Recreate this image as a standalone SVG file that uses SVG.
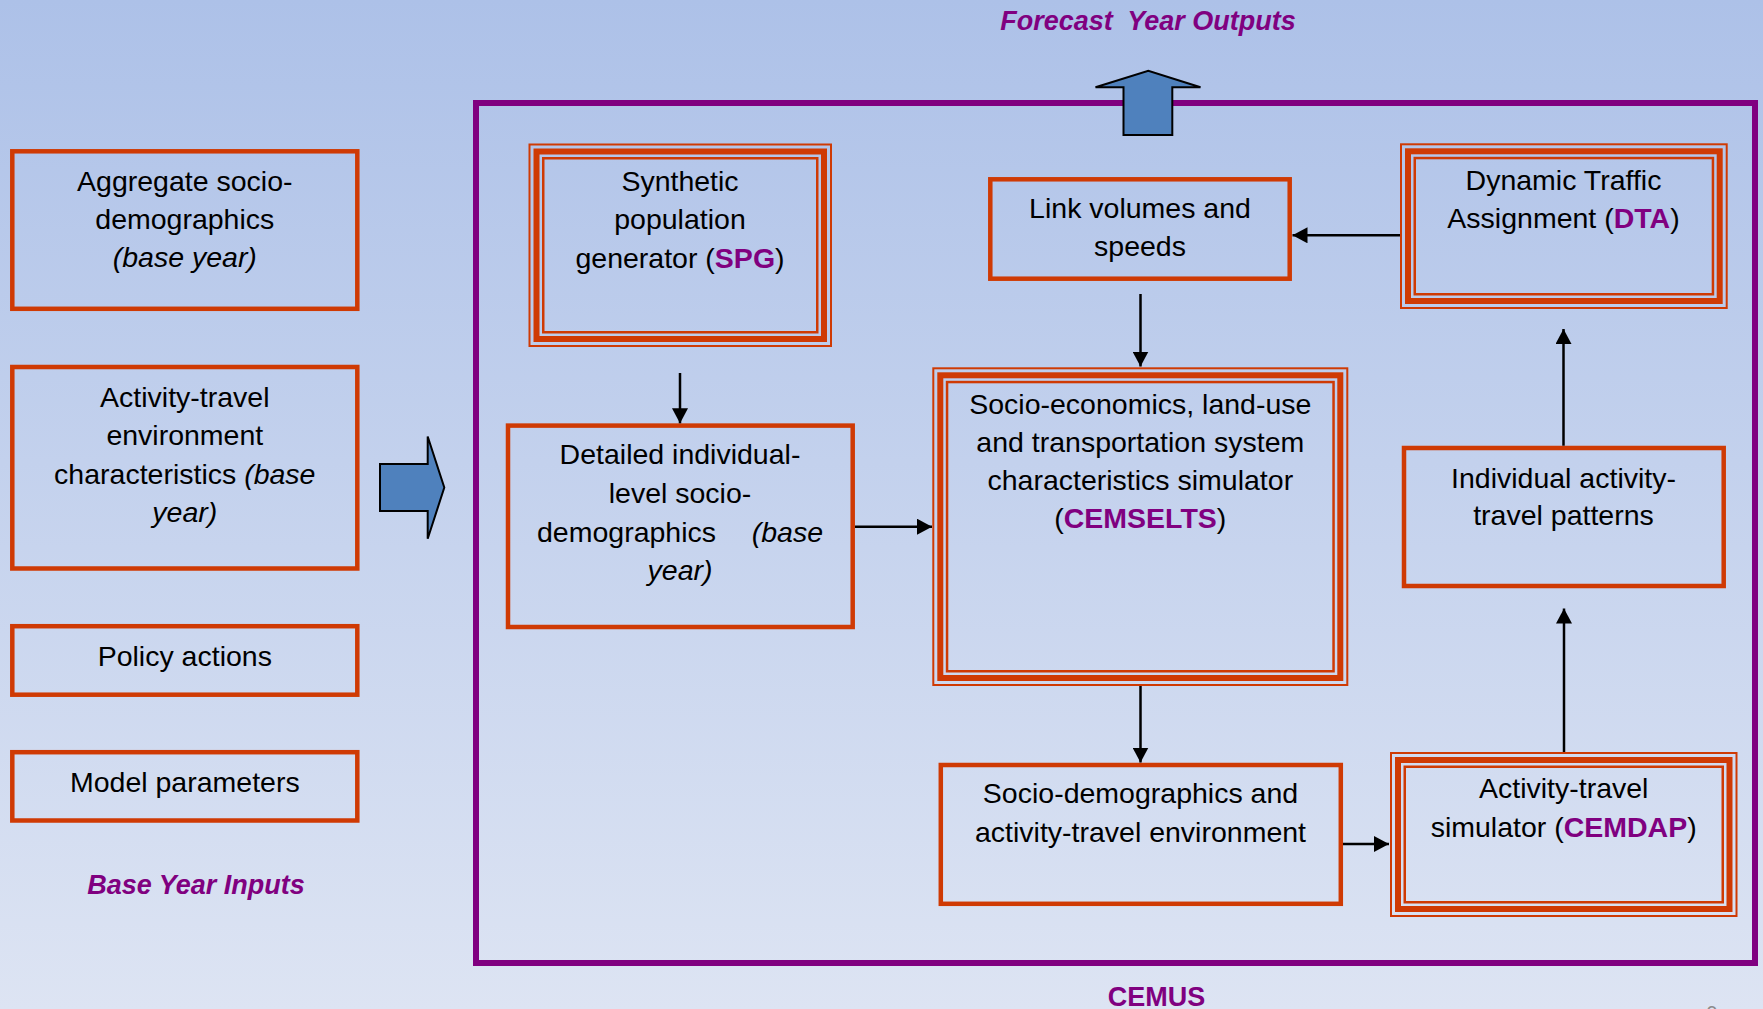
<svg xmlns="http://www.w3.org/2000/svg" width="1763" height="1009" viewBox="0 0 1763 1009">
  <defs>
    <linearGradient id="bg" x1="0" y1="0" x2="0" y2="1">
      <stop offset="0" stop-color="#ADC1E8"/>
      <stop offset="1" stop-color="#DDE4F3"/>
    </linearGradient>
    <marker id="ah" viewBox="0 0 15 16" refX="15" refY="8" markerWidth="15" markerHeight="16" markerUnits="userSpaceOnUse" orient="auto">
      <path d="M0,0 L15,8 L0,16 z" fill="#000"/>
    </marker>
    <style>
      .box { fill: none; stroke: #CF3A04; stroke-width: 4.5; }
      .tb1 { fill: none; stroke: #CF3A04; stroke-width: 2; }
      .tb2 { fill: none; stroke: #CF3A04; stroke-width: 6; }
      .tb3 { fill: none; stroke: #CF3A04; stroke-width: 2.5; }
      .t { font-family: "Liberation Sans", Arial, sans-serif; font-size: 28.5px; fill: #000; text-anchor: middle; }
      .em { fill: #800080; font-weight: bold; }
      .it { font-style: italic; }
      .ttl { font-family: "Liberation Sans", Arial, sans-serif; font-size: 27px; font-weight: bold; font-style: italic; fill: #800080; text-anchor: middle; }
      .conn { fill: none; stroke: #000; stroke-width: 2.5; marker-end: url(#ah); }
      .blk { fill: #4F81BD; stroke: #000; stroke-width: 2; stroke-linejoin: miter; }
    </style>
  </defs>

  <rect x="0" y="0" width="1763" height="1009" fill="url(#bg)"/>

  <!-- CEMUS container -->
  <g id="cemus">
    <rect x="476" y="103" width="1279" height="860" fill="none" stroke="#800080" stroke-width="6"/>
    <text class="ttl" x="1156.5" y="1006" style="font-style:normal">CEMUS</text>
  </g>

  <text class="ttl" x="1148" y="29.5" xml:space="preserve">Forecast  Year Outputs</text>
  <text class="ttl" x="196" y="894">Base Year Inputs</text>
  <text x="1712" y="1020" font-family="Liberation Sans, Arial, sans-serif" font-size="20" fill="#8C8C8C" text-anchor="middle">9</text>

  <!-- Left input boxes -->
  <g id="aggregate">
    <rect class="box" x="12.3" y="151.3" width="345" height="157.5"/>
    <text class="t" x="184.8" y="190.7">Aggregate socio-</text>
    <text class="t" x="184.8" y="228.5">demographics</text>
    <text class="t it" x="184.8" y="266.7">(base year)</text>
  </g>
  <g id="activity-env">
    <rect class="box" x="12.3" y="367" width="345" height="201.5"/>
    <text class="t" x="184.8" y="406.5">Activity-travel</text>
    <text class="t" x="184.8" y="445">environment</text>
    <text class="t" x="184.8" y="483.5">characteristics <tspan class="it">(base</tspan></text>
    <text class="t it" x="184.8" y="522">year)</text>
  </g>
  <g id="policy">
    <rect class="box" x="12.3" y="626.2" width="345" height="68.5"/>
    <text class="t" x="184.8" y="665.7">Policy actions</text>
  </g>
  <g id="model-params">
    <rect class="box" x="12.3" y="752.2" width="345" height="68.3"/>
    <text class="t" x="184.8" y="791.7">Model parameters</text>
  </g>

  <!-- Block arrows -->
  <g id="input-arrow">
    <polygon class="blk" points="380,464 427.7,464 427.7,436.5 444.3,487.5 427.7,538.8 427.7,511 380,511"/>
  </g>
  <g id="output-arrow">
    <polygon class="blk" points="1123.5,135 1123.5,87.3 1095.5,87.3 1148.3,70.7 1200.5,87.3 1172.3,87.3 1172.3,135"/>
  </g>

  <!-- CEMUS components -->
  <g id="spg">
    <rect class="tb1" x="529.5" y="144.5" width="301.5" height="201.5"/>
    <rect class="tb2" x="536.5" y="151.5" width="287.5" height="187.5"/>
    <rect class="tb3" x="543.25" y="158.25" width="274" height="174"/>
    <text class="t" x="680" y="190.5">Synthetic</text>
    <text class="t" x="680" y="228.7">population</text>
    <text class="t" x="680" y="268">generator (<tspan class="em">SPG</tspan>)</text>
  </g>
  <g id="detailed">
    <rect class="box" x="508" y="425.6" width="344.7" height="201.4"/>
    <text class="t" x="680" y="464">Detailed individual-</text>
    <text class="t" x="680" y="502.7">level socio-</text>
    <text class="t" x="537" y="541.7" style="text-anchor:start">demographics</text>
    <text class="t it" x="823" y="541.7" style="text-anchor:end">(base</text>
    <text class="t it" x="680" y="580">year)</text>
  </g>
  <g id="link-volumes">
    <rect class="box" x="990.3" y="179.3" width="299.4" height="99.4"/>
    <text class="t" x="1140" y="218.3">Link volumes and</text>
    <text class="t" x="1140" y="255.5">speeds</text>
  </g>
  <g id="dta">
    <rect class="tb1" x="1401" y="144.3" width="325.7" height="163.7"/>
    <rect class="tb2" x="1408" y="151.3" width="311.7" height="149.7"/>
    <rect class="tb3" x="1414.75" y="158.05" width="298.2" height="136.2"/>
    <text class="t" x="1563.5" y="190">Dynamic Traffic</text>
    <text class="t" x="1563.5" y="228.3">Assignment (<tspan class="em">DTA</tspan>)</text>
  </g>
  <g id="cemselts">
    <rect class="tb1" x="933.3" y="368.3" width="414" height="316.7"/>
    <rect class="tb2" x="940.3" y="375.3" width="400" height="302.7"/>
    <rect class="tb3" x="947.05" y="382.05" width="386.5" height="289.2"/>
    <text class="t" x="1140.3" y="414">Socio-economics, land-use</text>
    <text class="t" x="1140.3" y="451.7">and transportation system</text>
    <text class="t" x="1140.3" y="490">characteristics simulator</text>
    <text class="t" x="1140.3" y="528">(<tspan class="em">CEMSELTS</tspan>)</text>
  </g>
  <g id="individual">
    <rect class="box" x="1404" y="448" width="319.7" height="138"/>
    <text class="t" x="1563.5" y="487.7">Individual activity-</text>
    <text class="t" x="1563.5" y="525">travel patterns</text>
  </g>
  <g id="socio-dem">
    <rect class="box" x="940.8" y="765" width="400" height="138.8"/>
    <text class="t" x="1140.5" y="803.3">Socio-demographics and</text>
    <text class="t" x="1140.5" y="841.7">activity-travel environment</text>
  </g>
  <g id="cemdap">
    <rect class="tb1" x="1391" y="753" width="345.5" height="163"/>
    <rect class="tb2" x="1398" y="760" width="331.5" height="149"/>
    <rect class="tb3" x="1404.75" y="766.75" width="318" height="135.5"/>
    <text class="t" x="1563.7" y="798.3">Activity-travel</text>
    <text class="t" x="1563.7" y="836.7">simulator (<tspan class="em">CEMDAP</tspan>)</text>
  </g>

  <!-- Connectors -->
  <g id="connectors">
    <line class="conn" x1="680" y1="373" x2="680" y2="423.3"/>
    <line class="conn" x1="855" y1="526.7" x2="932" y2="526.7"/>
    <line class="conn" x1="1140.5" y1="294" x2="1140.5" y2="366.5"/>
    <line class="conn" x1="1400" y1="235.3" x2="1292.5" y2="235.3"/>
    <line class="conn" x1="1140.5" y1="686" x2="1140.5" y2="762.5"/>
    <line class="conn" x1="1343" y1="844" x2="1389" y2="844"/>
    <line class="conn" x1="1564" y1="752" x2="1564" y2="608.5"/>
    <line class="conn" x1="1563.5" y1="445.7" x2="1563.5" y2="329"/>
  </g>
</svg>
